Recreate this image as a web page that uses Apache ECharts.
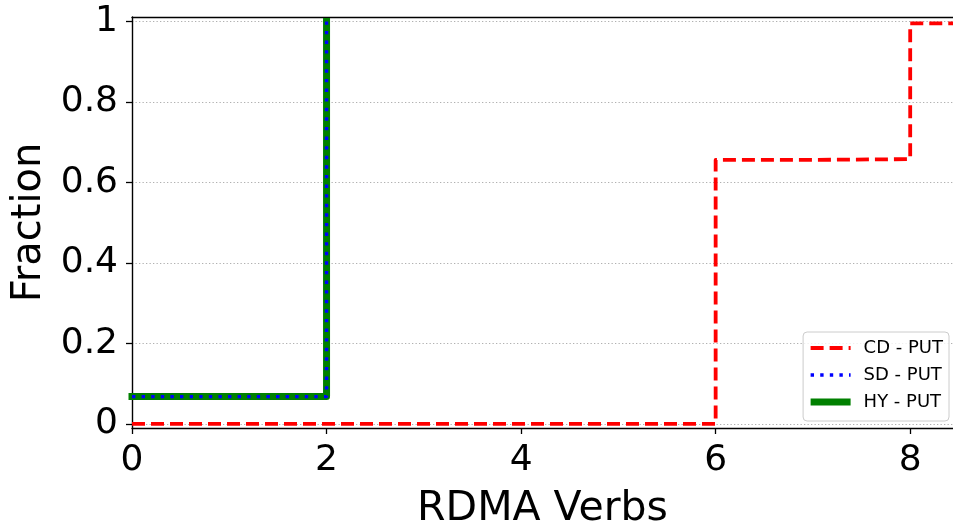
<!DOCTYPE html>
<html>
<head>
<meta charset="utf-8">
<script src="https://cdn.jsdelivr.net/npm/echarts@6/dist/echarts.min.js"></script>
<style>
  html, body { margin: 0; padding: 0; background: #ffffff; }
  #chart { width: 953px; height: 523px; }
</style>
</head>
<body>
<div id="chart"></div>
<script>
// Cumulative fraction of PUT operations by number of RDMA verbs issued.
// Each series is a step CDF: (verb count, cumulative fraction).
const cdX = [0, 6, 7, 8, 9];
const cdY = [0.0, 0.656, 0.658, 0.995, 0.995];
const sdX = [0, 2];
const sdY = [0.068, 1.0];
const hyX = [0, 2];
const hyY = [0.068, 1.0];

const seriesNames = ['CD - PUT', 'SD - PUT', 'HY - PUT'];
const yTickValues = [0, 0.2, 0.4, 0.6, 0.8, 1];
const xTickStep = 2;

const FONT = 'DejaVu Sans';

function pairs(xs, ys) {
  return xs.map((x, i) => [x, ys[i]]);
}

const styles = {
  cd: { color: '#ff0000', width: 3.8, type: [13, 6], cap: 'butt', join: 'round' },
  sd: { color: '#0000ff', width: 3.4, type: [3.4, 6.2], cap: 'butt', join: 'round' },
  hy: { color: '#008000', width: 7, type: 'solid', cap: 'square', join: 'round' }
};

const chart = echarts.init(document.getElementById('chart'), null, { renderer: 'canvas' });

const axisLineStyle = { color: '#000000', width: 1.4 };

chart.setOption({
  animation: false,
  backgroundColor: '#ffffff',
  grid: { left: 132, right: 0, top: 17, bottom: 95, containLabel: false, outerBoundsMode: 'none' },
  legend: {
    orient: 'vertical',
    right: 4,
    top: 332,
    itemWidth: 40,
    itemHeight: 14,
    itemGap: 9,
    padding: [7, 6, 10, 4],
    backgroundColor: 'rgba(255,255,255,0.8)',
    borderColor: '#cccccc',
    borderWidth: 1,
    borderRadius: 4,
    itemStyle: { opacity: 0 },
    textStyle: { fontFamily: FONT, fontSize: 18, color: '#000000', padding: [0, 0, 0, 8] },
    data: [
      { name: seriesNames[0], lineStyle: Object.assign({}, styles.cd) },
      { name: seriesNames[1], lineStyle: Object.assign({}, styles.sd) },
      { name: seriesNames[2], lineStyle: Object.assign({}, styles.hy, { cap: 'butt' }) }
    ]
  },
  xAxis: [
    {
      type: 'value',
      min: 0,
      max: 8.44,
      interval: xTickStep,
      name: 'RDMA Verbs',
      nameLocation: 'middle',
      nameGap: 61,
      nameTextStyle: { fontFamily: FONT, fontSize: 41, color: '#000000' },
      axisLine: { show: true, onZero: false, lineStyle: axisLineStyle },
      axisTick: { show: true, length: 6, lineStyle: { color: '#000000', width: 1.3 } },
      axisLabel: { fontFamily: FONT, fontSize: 36, color: '#000000', margin: 15 },
      splitLine: { show: false }
    },
    {
      type: 'value',
      position: 'top',
      min: 0,
      max: 8.44,
      interval: xTickStep,
      axisLine: { show: true, onZero: false, lineStyle: axisLineStyle },
      axisTick: { show: false },
      axisLabel: { show: false },
      splitLine: { show: false }
    }
  ],
  yAxis: {
    type: 'value',
    min: -0.01,
    max: 1.011,
    name: 'Fraction',
    nameLocation: 'middle',
    nameGap: 79,
    nameTextStyle: { fontFamily: FONT, fontSize: 40, color: '#000000' },
    axisLine: { show: true, onZero: false, lineStyle: axisLineStyle },
    axisTick: { show: true, length: 6, customValues: yTickValues, lineStyle: { color: '#000000', width: 1.3 } },
    axisLabel: { fontFamily: FONT, fontSize: 36, color: '#000000', margin: 14, customValues: yTickValues },
    splitLine: { show: true, lineStyle: { color: '#b0b0b0', width: 1, type: [1.3, 2.2] } }
  },
  series: [
    {
      name: seriesNames[0],
      type: 'line',
      step: 'end',
      symbol: 'none',
      z: 4,
      data: pairs(cdX, cdY),
      itemStyle: { color: styles.cd.color },
      lineStyle: styles.cd
    },
    {
      name: seriesNames[1],
      type: 'line',
      step: 'end',
      symbol: 'none',
      z: 5,
      data: pairs(sdX, sdY),
      itemStyle: { color: styles.sd.color },
      lineStyle: styles.sd
    },
    {
      name: seriesNames[2],
      type: 'line',
      step: 'end',
      symbol: 'none',
      z: 3,
      data: pairs(hyX, hyY),
      itemStyle: { color: styles.hy.color },
      lineStyle: styles.hy
    }
  ]
});
</script>
</body>
</html>
